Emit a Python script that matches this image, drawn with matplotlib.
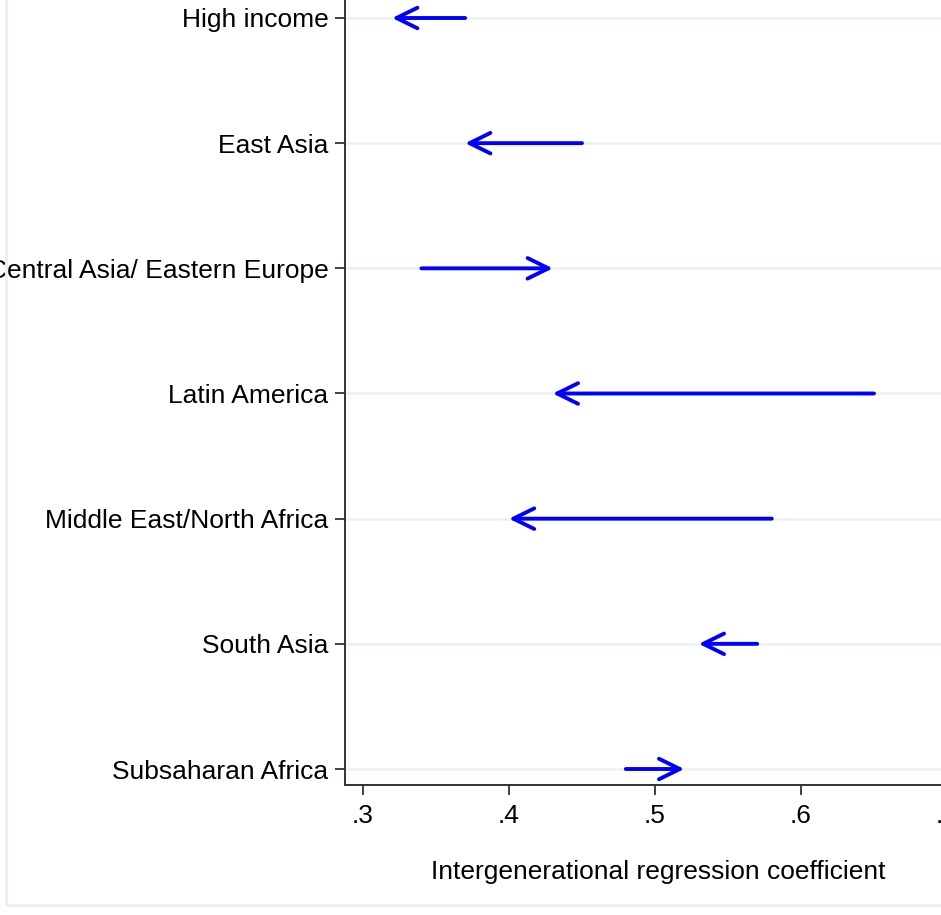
import matplotlib
matplotlib.use('Agg')
import matplotlib.pyplot as plt
from matplotlib.patches import FancyArrowPatch, Rectangle

# regional intergenerational coefficients: earlier cohort -> later cohort
regions = ["High income", "East Asia", "Central Asia/ Eastern Europe",
           "Latin America", "Middle East/North Africa", "South Asia",
           "Subsaharan Africa"]
coef_old = [0.37, 0.45, 0.34, 0.65, 0.58, 0.57, 0.48]
coef_new = [0.32, 0.37, 0.43, 0.43, 0.40, 0.53, 0.52]
xticks = [0.3, 0.4, 0.5, 0.6, 0.7]
xtick_labels = [".3", ".4", ".5", ".6", ".7"]

plt.rcParams['font.family'] = ['Liberation Sans', 'DejaVu Sans']
W, H = 941, 915
fig = plt.figure(figsize=(W / 100, H / 100), dpi=100)

# light frame round the graph region
fig.add_artist(Rectangle((6 / W, 10 / H), 1.2, 1.2, transform=fig.transFigure,
                         fill=False, edgecolor='#eaf0f0', linewidth=2.2))

left, bottom = 345, 785
right, top = 962, 0
ax = fig.add_axes([left / W, (H - bottom) / H, (right - left) / W, (bottom - top) / H])

n = len(regions)
ypos = list(range(1, n + 1))
row_px = 125.17
ax.set_ylim(n + 16 / row_px, 1 - 18 / row_px)
ax.set_xlim(0.3 - 18 / 1460, 0.3 + (right - 363) / 1460)

for y in ypos:
    ax.axhline(y, color='#eaf1f3', linewidth=1.8, zorder=0)

for y, a, b in zip(ypos, coef_old, coef_new):
    arr = FancyArrowPatch((a, y), (b, y), arrowstyle='->,head_length=0.75,head_width=0.37',
                          mutation_scale=20, color='#0000ff', linewidth=2.8,
                          shrinkA=0, shrinkB=0, zorder=3)
    ax.add_patch(arr)

ax.set_yticks(ypos)
ax.set_yticklabels(regions)
ax.set_xticks(xticks)
ax.set_xticklabels(xtick_labels)
ax.tick_params(axis='both', labelsize=19, length=7, width=1.3, color='#333333')
ax.tick_params(axis='y', pad=5)
ax.tick_params(axis='x', pad=7)

for side in ['top', 'right']:
    ax.spines[side].set_visible(False)
for side in ['left', 'bottom']:
    ax.spines[side].set_linewidth(1.4)
    ax.spines[side].set_color('#333333')

fig.text(658 / W, 1 - 872 / H, "Intergenerational regression coefficient",
         ha='center', va='center', fontsize=19)

fig.savefig('out.png', dpi=100)
